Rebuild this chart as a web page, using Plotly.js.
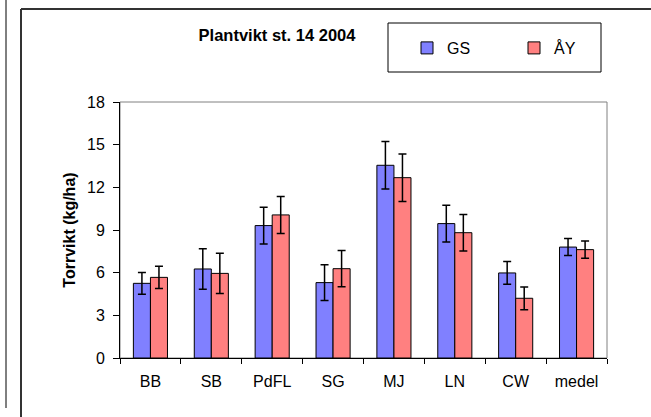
<!DOCTYPE html>
<html>
<head>
<meta charset="utf-8">
<script src="https://cdn.plot.ly/plotly-3.0.1.min.js"></script>
<style>
  html, body { margin: 0; padding: 0; background: #fff; }
  #chart { width: 651px; height: 417px; }
</style>
</head>
<body>
<div id="chart"></div>
<script>
// Plant weight at stage 14, 2004 — two treatments per site, with error bars
const categories = ['BB', 'SB', 'PdFL', 'SG', 'MJ', 'LN', 'CW', 'medel'];
const gsValues   = [5.25, 6.26, 9.31, 5.30, 13.55, 9.45, 5.98, 7.80];
const gsErrors   = [0.77, 1.43, 1.29, 1.25, 1.67, 1.29, 0.80, 0.60];
const ayValues   = [5.67, 5.95, 10.06, 6.28, 12.68, 8.81, 4.20, 7.62];
const ayErrors   = [0.78, 1.42, 1.30, 1.27, 1.67, 1.28, 0.80, 0.60];
const yTicks     = [0, 3, 6, 9, 12, 15, 18];

const W = 651, H = 417;
const M = { l: 120, r: 44, t: 102, b: 59 };
const plotW = W - M.l - M.r, plotH = H - M.t - M.b;
// helpers: page pixel -> paper coordinate
const px = x => (x - M.l) / plotW;
const py = y => (H - M.b - y) / plotH;

const FONT = 'Liberation Sans, Arial, sans-serif';

function barTrace(name, values, errors, color) {
  return {
    type: 'bar',
    name: name,
    x: categories,
    y: values,
    marker: { color: color, line: { color: '#000000', width: 1 } },
    error_y: { type: 'data', array: errors, visible: true, color: '#000000', thickness: 1.5, width: 4 },
    hoverinfo: 'skip'
  };
}

const data = [
  barTrace('GS', gsValues, gsErrors, '#8080FF'),
  barTrace('ÅY', ayValues, ayErrors, '#FF8080')
];

const layout = {
  width: W,
  height: H,
  margin: M,
  paper_bgcolor: '#ffffff',
  plot_bgcolor: '#ffffff',
  font: { family: FONT, size: 16, color: '#000000' },
  barmode: 'group',
  bargap: 0.44,
  bargroupgap: 0,
  title: {
    text: '<b>Plantvikt st. 14 2004</b>',
    font: { family: FONT, size: 16.5, color: '#000000' },
    x: 277 / W, xref: 'container', xanchor: 'center',
    y: 1 - 35 / H, yref: 'container', yanchor: 'middle'
  },
  xaxis: {
    type: 'category',
    range: [-0.5, categories.length - 0.5],
    showline: true, linecolor: '#000000', linewidth: 1,
    ticks: 'outside', tickson: 'boundaries', ticklen: 5, tickcolor: '#000000', tickwidth: 1,
    ticklabelstandoff: 9,
    showgrid: false, zeroline: false,
    tickfont: { family: FONT, size: 16, color: '#000000' },
    fixedrange: true
  },
  yaxis: {
    range: [0, 18],
    tickvals: yTicks,
    showline: true, linecolor: '#000000', linewidth: 1,
    ticks: 'outside', ticklen: 6, tickcolor: '#000000', tickwidth: 1,
    ticklabelstandoff: 5,
    showgrid: false, zeroline: false,
    tickfont: { family: FONT, size: 16, color: '#000000' },
    title: { text: '<b>Torrvikt (kg/ha)</b>', font: { family: FONT, size: 16, color: '#000000' }, standoff: 7 },
    fixedrange: true
  },
  showlegend: true,
  legend: {
    orientation: 'h',
    x: px(407), xanchor: 'left',
    y: py(48), yanchor: 'middle',
    bgcolor: 'rgba(0,0,0,0)',
    borderwidth: 0,
    entrywidth: 62, entrywidthmode: 'pixels',
    font: { family: FONT, size: 16, color: '#000000' },
    itemclick: false, itemdoubleclick: false
  },
  shapes: [
    // plot area frame (top/right in grey, axes drawn over it)
    { type: 'rect', xref: 'paper', yref: 'paper', x0: 0, x1: 1, y0: 0, y1: 1,
      line: { color: '#808080', width: 1 }, layer: 'below' },
    // legend box
    { type: 'rect', xref: 'paper', yref: 'paper', x0: px(388), x1: px(601), y0: py(72), y1: py(23),
      line: { color: '#000000', width: 1 }, fillcolor: 'rgba(0,0,0,0)' },
    // chart frame
    { type: 'line', xref: 'paper', yref: 'paper', x0: px(21), x1: px(651), y0: py(9), y1: py(9),
      line: { color: '#333333', width: 2 } },
    { type: 'line', xref: 'paper', yref: 'paper', x0: px(21), x1: px(21), y0: py(9), y1: py(417),
      line: { color: '#333333', width: 2 } },
    // neighbouring frame edge
    { type: 'line', xref: 'paper', yref: 'paper', x0: px(6), x1: px(6), y0: py(0), y1: py(408),
      line: { color: '#000000', width: 1 } }
  ]
};

Plotly.newPlot('chart', data, layout, { displayModeBar: false, staticPlot: true });
</script>
</body>
</html>
